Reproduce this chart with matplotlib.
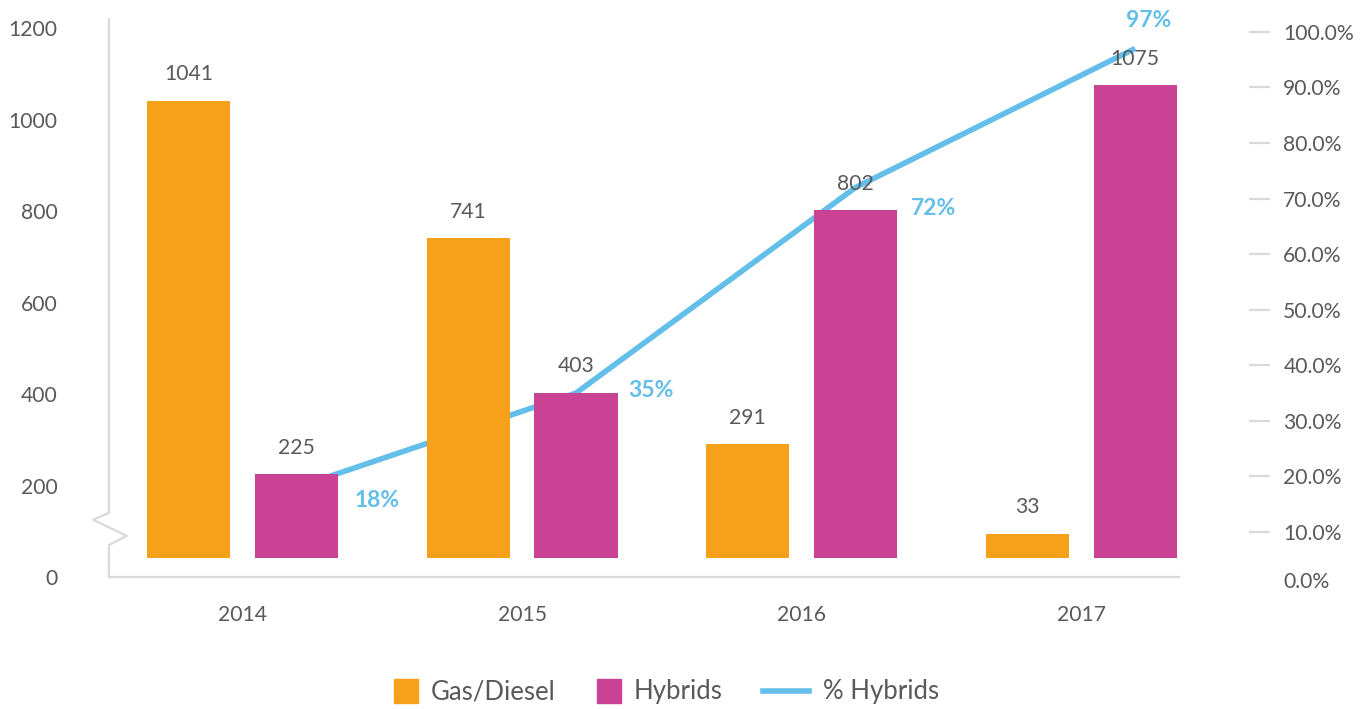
import matplotlib
matplotlib.use("Agg")
import matplotlib.pyplot as plt
from matplotlib.lines import Line2D
import numpy as np

years = ["2014", "2015", "2016", "2017"]
gas_diesel = [1041, 741, 291, 33]
hybrids = [225, 403, 802, 1075]
pct_hybrids = [0.18, 0.35, 0.72, 0.97]
pct_labels = ["18%", "35%", "72%", "97%"]

ORANGE = "#F7A11A"
MAGENTA = "#C94294"
BLUE = "#63BFEA"
GRAY_TXT = "#595959"
GRAY_LINE = "#D9D9D9"

plt.rcParams["font.family"] = ["Lato", "DejaVu Sans"]

# bars sit on the axis break, tiny bars are stretched so they stay visible
BASE = 42


def shown(vals):
    v = np.asarray(vals, dtype=float)
    return np.where(v < 100, BASE + v * 1.6, v)


fig = plt.figure(figsize=(13.72, 7.09), dpi=100)
ax = fig.add_axes([0.0794, 0.1862, 0.78, 0.7870])
ax2 = ax.twinx()

x = np.arange(len(years))
w = 0.298
off = 0.193

gas_top = shown(gas_diesel)
hyb_top = shown(hybrids)
ax.bar(x - off, gas_top - BASE, w, bottom=BASE, color=ORANGE, zorder=3)
ax.bar(x + off, hyb_top - BASE, w, bottom=BASE, color=MAGENTA, zorder=3)

for xi, top, v in zip(x - off, gas_top, gas_diesel):
    ax.annotate(str(v), (xi, top), xytext=(0, 19), textcoords="offset points",
                ha="center", va="center", fontsize=15.2, color=GRAY_TXT)
for xi, top, v in zip(x + off, hyb_top, hybrids):
    ax.annotate(str(v), (xi, top), xytext=(0, 19), textcoords="offset points",
                ha="center", va="center", fontsize=15.2, color=GRAY_TXT)

# percentage line, drawn behind the bars
ax.set_zorder(2)
ax2.set_zorder(1)
ax.patch.set_visible(False)
ax2.plot(x + off, pct_hybrids, color=BLUE, lw=4, solid_capstyle="butt")
pct_offsets = [(58, -9), (54, 2), (56, -15), (10, 20)]
for xi, p, lab, o in zip(x + off, pct_hybrids, pct_labels, pct_offsets):
    ax2.annotate(lab, (xi, p), xytext=o, textcoords="offset points",
                 ha="center", va="center", fontsize=16.5, fontweight="bold",
                 color=BLUE, annotation_clip=False)

ax.set_xlim(-0.478, 3.35)
ax.set_ylim(0, 1220)
ax.set_yticks(range(0, 1201, 200))
ax.set_xticks(x)
ax.set_xticklabels(years)
ax.tick_params(axis="y", length=0, pad=37, labelsize=15.2, labelcolor=GRAY_TXT)
ax.tick_params(axis="x", length=0, pad=20, labelsize=15.2, labelcolor=GRAY_TXT)
for s in ["top", "right", "left"]:
    ax.spines[s].set_visible(False)
ax.spines["bottom"].set_color(GRAY_LINE)
ax.spines["bottom"].set_linewidth(1.6)

# left axis line with the zigzag break
brk_x = [-0.478, -0.478, -0.535, -0.414, -0.478, -0.478]
brk_y = [1220, 140, 125, 90, 70, 0]
ax.plot(brk_x, brk_y, color=GRAY_LINE, lw=1.6, clip_on=False, zorder=1)

ax2.set_ylim(0.019, 1.023)
ax2.set_yticks(np.arange(0.1, 1.01, 0.1))
ax2.set_yticklabels([f"{t * 100:.1f}%" for t in np.arange(0.1, 1.01, 0.1)])
ax2.tick_params(axis="y", direction="out", length=15, width=1.6, color=GRAY_LINE,
                pad=10, labelsize=15.2, labelcolor=GRAY_TXT)
ax2.spines["right"].set_position(("outward", 50))
for s in ax2.spines.values():
    s.set_visible(False)
fig.text(1283 / 1372, 1 - 582 / 709, "0.0%", ha="left", va="center",
         fontsize=15.2, color=GRAY_TXT)

# legend in two parts: the line handle is longer than the square ones
leg_y = 1 - 692 / 709
bar_handles = [
    Line2D([], [], marker="s", ls="none", color=ORANGE, markersize=17),
    Line2D([], [], marker="s", ls="none", color=MAGENTA, markersize=17),
]
leg1 = fig.legend(bar_handles, ["Gas/Diesel", "Hybrids"], loc="center",
                  bbox_to_anchor=(558.5 / 1372, leg_y), ncol=2, frameon=False,
                  fontsize=18.5, labelcolor=GRAY_TXT, handlelength=0.92,
                  handletextpad=0.5, columnspacing=1.6)
fig.legend([Line2D([], [], color=BLUE, lw=4)], ["% Hybrids"], loc="center",
           bbox_to_anchor=(851 / 1372, leg_y), frameon=False,
           fontsize=18.5, labelcolor=GRAY_TXT, handlelength=1.79,
           handletextpad=0.55)

fig.savefig("out.png", dpi=100)
